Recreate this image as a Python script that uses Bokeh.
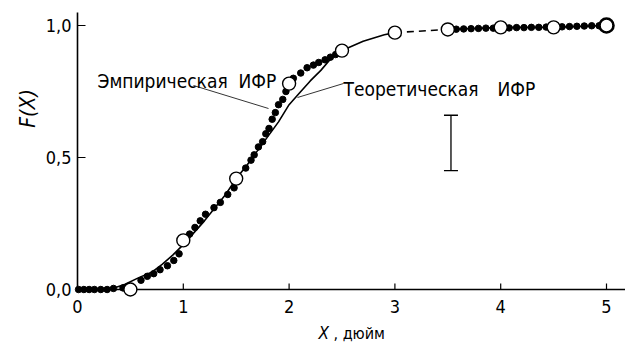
from bokeh.plotting import figure
from bokeh.models import Range1d
from bokeh.core.properties import value
from bokeh.embed import file_html
from bokeh.resources import INLINE
import math

FONT = "DejaVu Sans Condensed"

# Empirical CDF points (filled dots)
emp_x = [0.01, 0.06, 0.11, 0.16, 0.22, 0.28, 0.34, 0.43, 0.48,
         0.60, 0.66, 0.72, 0.78, 0.85, 0.91, 0.96,
         1.06, 1.11, 1.16, 1.21, 1.29, 1.35, 1.42, 1.48,
         1.59, 1.64, 1.67, 1.71, 1.75, 1.78, 1.81, 1.84, 1.87, 1.90, 1.94, 1.97,
         2.04, 2.11, 2.17, 2.23, 2.28, 2.34, 2.39, 2.44,
         3.58, 3.65, 3.72, 3.79, 3.86, 3.93,
         4.08, 4.15, 4.22, 4.29, 4.36, 4.43,
         4.58, 4.65, 4.72, 4.79, 4.86, 4.93]
emp_y = [0.0, 0.0, 0.0, 0.0, 0.0, 0.0, 0.004, 0.006, 0.012,
         0.035, 0.05, 0.06, 0.075, 0.09, 0.11, 0.135,
         0.21, 0.235, 0.26, 0.285, 0.31, 0.33, 0.36, 0.385,
         0.46, 0.49, 0.51, 0.54, 0.56, 0.59, 0.61, 0.645, 0.67, 0.70, 0.72, 0.75,
         0.80, 0.82, 0.84, 0.85, 0.86, 0.87, 0.88, 0.89,
         0.986, 0.987, 0.988, 0.989, 0.99, 0.99,
         0.991, 0.992, 0.992, 0.993, 0.993, 0.994,
         0.995, 0.996, 0.997, 0.998, 0.999, 0.999]

# Open circles
circ_x = [0.5, 1.0, 1.5, 2.0, 2.5, 3.0, 3.5, 4.0, 4.5, 5.0]
circ_y = [0.0, 0.186, 0.42, 0.78, 0.905, 0.973, 0.985, 0.993, 0.993, 1.0]

# Theoretical CDF curve
theo_x = [0.36, 0.45, 0.58, 0.7, 0.8, 0.9, 1.0, 1.2, 1.4, 1.5, 1.6, 1.8, 1.9, 2.0, 2.1, 2.2, 2.3, 2.42, 2.5, 2.7, 2.9, 3.0]
theo_y = [0.008, 0.02, 0.045, 0.065, 0.095, 0.13, 0.17, 0.26, 0.36, 0.42, 0.47, 0.58, 0.635, 0.70, 0.745, 0.79, 0.83, 0.886, 0.905, 0.94, 0.965, 0.973]

tail_dash_x = [3.0, 3.5]
tail_dash_y = [0.973, 0.985]

tail_x = [3.5, 4.0, 4.5, 5.0]
tail_y = [0.985, 0.993, 0.993, 1.0]

# Error bar
err_x = 3.53
err_lo = 0.45
err_hi = 0.66

# Axes
y_ticks = [0.0, 0.5, 1.0]
y_tick_labels = ["0,0", "0,5", "1,0"]
x_ticks = [0, 1, 2, 3, 4, 5]
x_tick_labels = ["0", "1", "2", "3", "4", "5"]

# px per data unit: 105.8 (x), 264 (y); origin at page (77, 289)
X0, XS = 77.0, 105.8
Y0, YS = 289.0, 264.0
W, H = 625, 343

p = figure(width=W, height=H, output_backend="svg", toolbar_location=None,
           x_range=Range1d(-X0 / XS, (W - X0) / XS),
           y_range=Range1d((Y0 - H) / YS, Y0 / YS),
           min_border=0, x_axis_type=None, y_axis_type=None)
p.outline_line_color = None
p.xgrid.visible = False
p.ygrid.visible = False
p.background_fill_color = "white"

dx = 1.0 / XS
dy = 1.0 / YS

def px(x):
    return (x - X0) / XS

def py(y):
    return (Y0 - y) / YS

# axis lines
p.segment([0, 0], [0, 0], [px(W), 0], [0, py(12)], line_color="black", line_width=1.6)
# ticks
p.segment(x_ticks[1:], [0] * 5, x_ticks[1:], [6 * dy] * 5, line_color="black", line_width=1.2)
p.segment([0, 0], y_ticks[1:], [8 * dx, 8 * dx], y_ticks[1:], line_color="black", line_width=1.2)

# tick labels
p.text(x_ticks, [-10 * dy] * 6, text=x_tick_labels, text_font=value(FONT),
       text_font_size="18px", text_align="center", text_baseline="top", text_color="black")
p.text([-6 * dx] * 3, y_ticks, text=y_tick_labels, text_font=value(FONT),
       text_font_size="18px", text_align="right", text_baseline="middle", text_color="black")

# curves
p.line(theo_x, theo_y, line_color="black", line_width=1.6)
p.line(tail_dash_x, tail_dash_y, line_color="black", line_width=1.6, line_dash="7 5")
p.line(tail_x, tail_y, line_color="black", line_width=1.6)

p.scatter(emp_x, emp_y, marker="circle", size=6.5, fill_color="black", line_color="black")
p.scatter(circ_x[:-1], circ_y[:-1], marker="circle", size=13, fill_color="white",
          line_color="black", line_width=1.4)
p.scatter(circ_x[-1:], circ_y[-1:], marker="circle", size=14, fill_color="white",
          line_color="black", line_width=2.6)

# error bar
p.segment([err_x], [err_lo], [err_x], [err_hi], line_color="black", line_width=1.3)
p.segment([err_x - 7 * dx, err_x - 7 * dx], [err_lo, err_hi], [err_x + 7 * dx, err_x + 7 * dx],
          [err_lo, err_hi], line_color="black", line_width=1.3)

# pointer lines
p.segment([px(193), px(343)], [py(85), py(83)], [px(268), px(297)], [py(108), py(97)],
          line_color="black", line_width=0.8)

def lab(x, y, t, size="19px", style="normal", angle=0, align="left", baseline="alphabetic"):
    p.text([x], [y], text=[t], text_font=value(FONT), text_font_size=size,
           text_font_style=style, angle=angle, text_align=align,
           text_baseline=baseline, text_color="black")

lab(px(97), py(80), "Эмпирическая")
lab(px(238), py(80), "ИФР")
lab(px(343), py(88), "Теоретическая")
lab(px(497), py(88), "ИФР")
lab(px(27), py(108), "F(X)", size="21px", style="italic",
    angle=math.pi / 2, align="center", baseline="middle")
lab(px(318), py(342), "X", size="17px", style="italic", baseline="bottom")
lab(px(333), py(342), ", дюйм", size="16px", baseline="bottom")

open("out.html", "w").write(file_html(p, INLINE))
